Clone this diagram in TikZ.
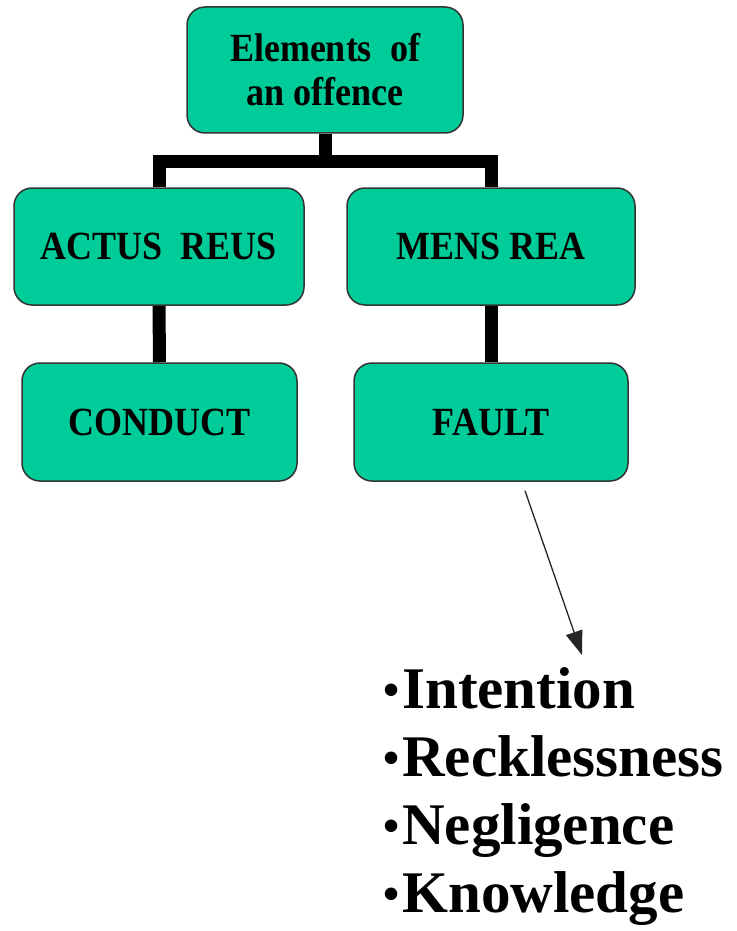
\documentclass[tikz,border=0pt]{standalone}
\usepackage{fontspec}
\setmainfont{Liberation Serif}
\newfontfamily\boxfont{Liberation Serif}[FakeStretch=0.9]
\usetikzlibrary{arrows.meta,backgrounds}
\definecolor{boxgreen}{RGB}{0,204,153}
\newcommand{\smallbullet}{\raisebox{3pt}{\fontsize{46}{46}\selectfont\textbullet}\kern3pt}
\tikzset{%
  gbox/.style={draw=black!80,line width=1.5pt,fill=boxgreen,rounded corners=18pt,
    align=center,inner sep=0,font={\boxfont\bfseries\fontsize{40}{44}\selectfont}},
  tconn/.style={draw=black,line width=13pt,line join=miter},
  larrow/.style={draw=black!85,line width=1.3pt,-{Triangle[length=24pt,width=17pt]}},
  litem/.style={anchor=base west,inner sep=0,font={\bfseries\fontsize{59}{68}\selectfont}}
}

\begin{document}
\begin{tikzpicture}[x=1pt,y=1pt]
      \useasboundingbox (0,0) rectangle (736,-931);
      \path
        (325,-70) node (elements)[gbox,minimum width=276,minimum height=126]{Elements~ of\\an offence}
        (159,-246.5) node (actus)[gbox,minimum width=290,minimum height=117]{ACTUS~ REUS}
        (491,-246.5) node (mens)[gbox,minimum width=288,minimum height=117]{MENS REA}
        (159.5,-422) node (conduct)[gbox,minimum width=275,minimum height=118]{CONDUCT}
        (491,-422) node (fault)[gbox,minimum width=274,minimum height=118]{FAULT};
      \begin{scope}[on background layer]
        \draw[tconn] (elements.south) -- ++(0,-28) coordinate (bar);
        \draw[tconn] (actus.north) |- (bar) -| (mens.north);
        \draw[tconn] (actus.south) -- (conduct.north);
        \draw[tconn] (mens.south) -- (fault.north);
      \end{scope}
      \coordinate (tip) at (582,-655);
      \draw[larrow] ([xshift=34pt,yshift=-9pt]fault.south) -- (tip);
      \foreach \word [count=\i] in {Intention,Recklessness,Negligence,Knowledge}
        \node (item\i)[litem] at (383,{-708-68.3*(\i-1)}) {\smallbullet\word};
    \end{tikzpicture}
\end{document}
